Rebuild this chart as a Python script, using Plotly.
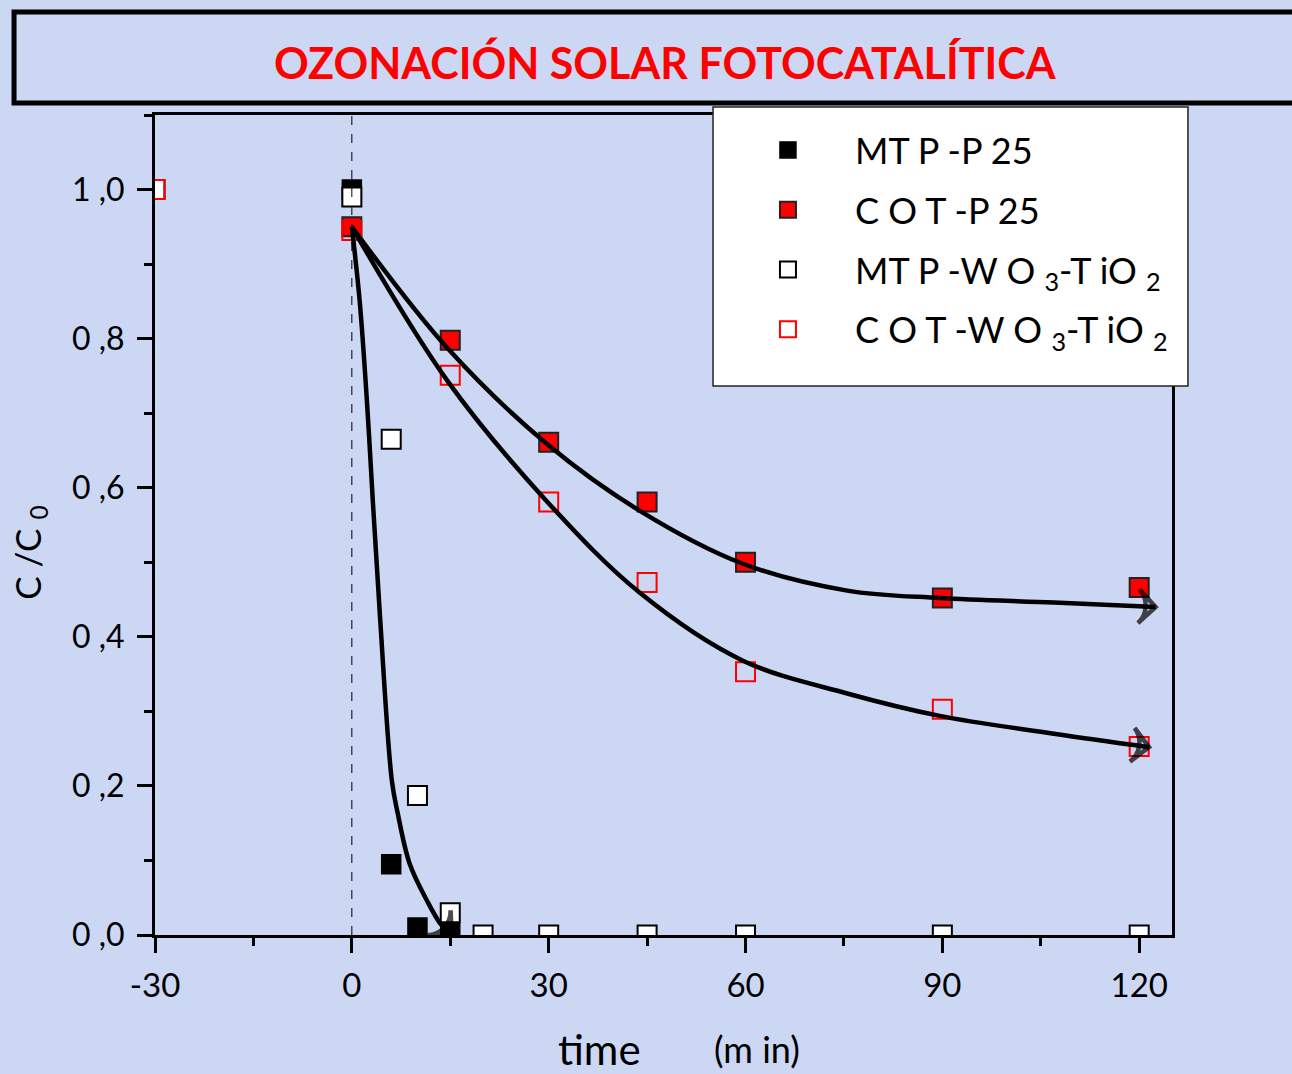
import plotly.graph_objects as go

# ---------------- data ----------------
t_mtp_p25 = [0, 6, 10, 15]
y_mtp_p25 = [1.0, 0.095, 0.01, 0.003]

t_cot_p25 = [0, 15, 30, 45, 60, 90, 120]
y_cot_p25 = [0.95, 0.798, 0.661, 0.581, 0.50, 0.452, 0.466]

t_mtp_wo3 = [-30, 0, 6, 10, 15, 20, 30, 45, 60, 90, 120]
y_mtp_wo3 = [1.0, 0.99, 0.665, 0.187, 0.03, 0.0, 0.0, 0.0, 0.0, 0.0, 0.0]

t_cot_wo3 = [-30, 0, 15, 30, 45, 60, 90, 120]
y_cot_wo3 = [1.0, 0.945, 0.751, 0.581, 0.473, 0.353, 0.303, 0.253]

# hand-drawn trend curves
fit_mtp_t = [0, 1.2, 2.3, 3.2, 4.3, 6.1, 7.0, 8.8, 11.4, 13.6, 15.2]
fit_mtp_y = [0.95, 0.85, 0.716, 0.582, 0.426, 0.207, 0.163, 0.096, 0.047, 0.014, 0.001]

fit_cotp_t = [0, 14.6, 29.7, 43.9, 59.6, 75.5, 89.6, 107, 122.5]
fit_cotp_y = [0.95, 0.787, 0.659, 0.569, 0.498, 0.462, 0.452, 0.446, 0.440]

fit_cotw_t = [0, 14.6, 29.7, 43.9, 59.6, 75.5, 89.6, 107, 121.5]
fit_cotw_y = [0.95, 0.743, 0.582, 0.459, 0.368, 0.324, 0.294, 0.270, 0.252]

names = [
    "MT P -P 25",
    "C O T -P 25",
    "MT P -W O <sub>3</sub>-T iO <sub>2</sub>",
    "C O T -W O <sub>3</sub>-T iO <sub>2</sub>",
]

x_ticks = [-30, 0, 30, 60, 90, 120]
x_ticktext = ["-30", "0", "30", "60", "90", "120"]
y_ticks = [0, 0.2, 0.4, 0.6, 0.8, 1.0]
y_ticktext = ["0 ,0", "0 ,2", "0 ,4", "0 ,6", "0 ,8", "1 ,0"]

BG = "#ccd7f4"
FONT = "Lato"
MS = 19

fig = go.Figure()

fig.add_trace(go.Scatter(
    x=t_mtp_p25, y=y_mtp_p25, mode="markers", name=names[0], legendgroup="g1",
    marker=dict(symbol="square", size=MS, color="black", line=dict(color="black", width=1.5))))
fig.add_trace(go.Scatter(
    x=t_cot_p25, y=y_cot_p25, mode="markers", name=names[1], legendgroup="g2",
    marker=dict(symbol="square", size=MS, color="#ff0000", line=dict(color="#222222", width=2))))
fig.add_trace(go.Scatter(
    x=t_mtp_wo3, y=y_mtp_wo3, mode="markers", name=names[2], legendgroup="g3",
    marker=dict(symbol="square", size=MS, color="white", line=dict(color="black", width=2))))
fig.add_trace(go.Scatter(
    x=t_cot_wo3, y=y_cot_wo3, mode="markers", name=names[3], legendgroup="g4",
    marker=dict(symbol="square-open", size=MS, color="#ff0000", line=dict(color="#ff0000", width=2))))

for ft, fy in [(fit_mtp_t, fit_mtp_y), (fit_cotp_t, fit_cotp_y), (fit_cotw_t, fit_cotw_y)]:
    n = len(ft)
    fig.add_trace(go.Scatter(
        x=ft, y=fy, mode="lines+markers", showlegend=False, cliponaxis=False,
        line=dict(color="black", width=4.5, shape="spline", smoothing=1.0),
        marker=dict(symbol=["circle"] * (n - 1) + ["arrow-wide-open"],
                    size=[0] * (n - 1) + [24], angleref="previous",
                    color="black", line=dict(color="black", width=4.5)),
        hoverinfo="skip"))

fig.add_vline(x=0, line=dict(color="black", width=1, dash="dash"))

# legend box
fig.add_shape(type="rect", xref="paper", yref="paper",
              x0=0.5487, x1=1.0157, y0=0.6695, y1=1.0098,
              line=dict(color="#222222", width=1.5), fillcolor="white", layer="above")

# title box
fig.add_shape(type="rect", xref="paper", yref="paper",
              x0=-0.1386, x1=1.16, y0=1.0146, y1=1.1256,
              line=dict(color="black", width=5), fillcolor="rgba(0,0,0,0)", layer="above")

fig.add_annotation(xref="paper", yref="paper", x=0.5015, y=1.0646, showarrow=False,
                   text="<b>OZONACIÓN SOLAR FOTOCATALÍTICA</b>",
                   font=dict(family=FONT, size=43, color="#ff0000"),
                   xanchor="center", yanchor="middle")

# axis titles
fig.add_annotation(xref="paper", yref="paper", x=-0.123, y=0.466, showarrow=False,
                   text="C /C <sub>0</sub>", textangle=-90,
                   font=dict(family=FONT, size=35, color="black"),
                   xanchor="center", yanchor="middle")
fig.add_annotation(xref="paper", yref="paper", x=0.437, y=-0.139, showarrow=False,
                   text="time", font=dict(family=FONT, size=42, color="black"),
                   xanchor="center", yanchor="middle")
fig.add_annotation(xref="paper", yref="paper", x=0.592, y=-0.139, showarrow=False,
                   text="(m in)", font=dict(family=FONT, size=36, color="black"),
                   xanchor="center", yanchor="middle")

fig.update_layout(
    width=1292, height=1074,
    margin=dict(l=155, r=120, t=115, b=139),
    paper_bgcolor=BG, plot_bgcolor=BG,
    showlegend=True,
    legend=dict(x=0.5565, y=0.9939, xanchor="left", yanchor="top",
                bgcolor="rgba(0,0,0,0)", borderwidth=0,
                font=dict(family=FONT, size=36, color="black"),
                traceorder="grouped", tracegroupgap=10, itemwidth=124,
                itemsizing="trace"),
    xaxis=dict(range=[-30, 125], tickvals=x_ticks, ticktext=x_ticktext, ticks="outside",
               ticklen=15, tickwidth=2.5,
               tickcolor="black", showline=True, linecolor="black", linewidth=3, mirror=True,
               showgrid=False, zeroline=False, ticklabelstandoff=4,
               tickfont=dict(family=FONT, size=33, color="black"),
               minor=dict(dtick=15, ticks="outside", ticklen=8, tickwidth=2.5, tickcolor="black",
                          showgrid=False)),
    yaxis=dict(range=[0, 1.1], tickvals=y_ticks, ticktext=y_ticktext, ticks="outside", ticklen=15,
               tickwidth=2.5, tickcolor="black", showline=True, linecolor="black", linewidth=3,
               mirror=True, showgrid=False, zeroline=False, ticklabelstandoff=6,
               tickfont=dict(family=FONT, size=32, color="black"),
               minor=dict(dtick=0.1, ticks="outside", ticklen=8, tickwidth=2.5, tickcolor="black",
                          showgrid=False)),
)

fig.write_html("out.html", config={"displayModeBar": False},
               post_script="document.body.style.margin='0';")
